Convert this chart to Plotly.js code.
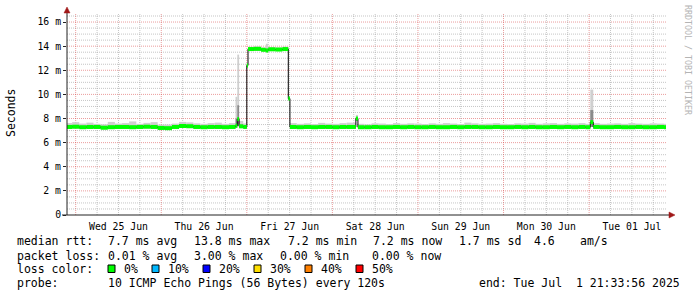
<!DOCTYPE html>
<html>
<head>
<meta charset="utf-8">
<script src="https://cdn.plot.ly/plotly-3.0.1.min.js"></script>
<style>
html,body{margin:0;padding:0;background:#fff;}
#chart{width:697px;height:297px;}
</style>
</head>
<body>
<div id="chart"></div>
<script>
// ---- data ----
const times = [
'2025-06-24 21:34','2025-06-24 23:00',
'2025-06-25 01:00','2025-06-25 03:00','2025-06-25 05:00','2025-06-25 07:00','2025-06-25 09:00','2025-06-25 11:00',
'2025-06-25 13:00','2025-06-25 15:00','2025-06-25 17:00','2025-06-25 19:00','2025-06-25 21:00','2025-06-25 23:00',
'2025-06-26 01:00','2025-06-26 03:00','2025-06-26 05:00','2025-06-26 07:00','2025-06-26 09:00','2025-06-26 11:00',
'2025-06-26 13:00','2025-06-26 15:00','2025-06-26 17:00','2025-06-26 19:00','2025-06-26 20:50','2025-06-26 21:20',
'2025-06-26 21:50','2025-06-26 23:00',
'2025-06-27 00:00','2025-06-27 00:20','2025-06-27 02:00','2025-06-27 04:00','2025-06-27 05:20','2025-06-27 06:00',
'2025-06-27 08:00','2025-06-27 10:00','2025-06-27 11:38','2025-06-27 12:05','2025-06-27 14:00','2025-06-27 16:00',
'2025-06-27 18:00','2025-06-27 20:00','2025-06-27 22:00',
'2025-06-28 00:00','2025-06-28 02:00','2025-06-28 04:00','2025-06-28 06:35','2025-06-28 07:10','2025-06-28 09:00',
'2025-06-28 11:00','2025-06-28 13:00','2025-06-28 15:00','2025-06-28 17:00','2025-06-28 19:00','2025-06-28 21:00',
'2025-06-28 23:00',
'2025-06-29 01:00','2025-06-29 03:00','2025-06-29 05:00','2025-06-29 07:00','2025-06-29 09:00','2025-06-29 11:00',
'2025-06-29 13:00','2025-06-29 15:00','2025-06-29 17:00','2025-06-29 19:00','2025-06-29 21:00','2025-06-29 23:00',
'2025-06-30 01:00','2025-06-30 03:00','2025-06-30 05:00','2025-06-30 07:00','2025-06-30 09:00','2025-06-30 11:00',
'2025-06-30 13:00','2025-06-30 15:00','2025-06-30 17:00','2025-06-30 19:00','2025-06-30 21:00','2025-06-30 23:00',
'2025-07-01 00:20','2025-07-01 01:10','2025-07-01 03:00','2025-07-01 05:00','2025-07-01 07:00','2025-07-01 09:00',
'2025-07-01 11:00','2025-07-01 13:00','2025-07-01 15:00','2025-07-01 17:00','2025-07-01 19:00','2025-07-01 21:00'
];
const endTime = '2025-07-01 21:33:56';
const startTime = '2025-06-24 21:33:56';

// median rtt (ms)
const median = [
7.30,7.32,
7.28,7.30,7.30,7.24,7.28,7.30,7.30,7.28,7.30,7.32,7.30,7.22,
7.20,7.30,7.38,7.36,7.30,7.28,7.30,7.30,7.28,7.30,7.40,7.95,7.35,7.30,
12.40,13.76,13.78,13.70,13.64,13.74,13.72,13.76,9.65,7.30,7.28,7.30,7.28,7.30,7.30,
7.28,7.30,7.30,8.00,7.28,7.28,7.30,7.28,7.28,7.30,7.28,7.30,7.28,
7.28,7.30,7.28,7.28,7.30,7.28,7.30,7.30,7.28,7.28,7.30,7.28,
7.28,7.30,7.28,7.30,7.28,7.28,7.30,7.28,7.30,7.28,7.30,7.28,
7.70,7.30,7.28,7.28,7.30,7.28,7.28,7.30,7.28,7.28,7.30,7.28
];
// lowest ping (ms)
const pingMin = [
7.18,7.20,
7.16,7.18,7.18,7.12,7.16,7.18,7.18,7.16,7.18,7.20,7.18,7.10,
7.08,7.18,7.26,7.24,7.18,7.16,7.18,7.18,7.16,7.18,7.25,7.40,7.22,7.18,
12.25,13.62,13.64,13.58,13.52,13.60,13.60,13.62,9.52,7.18,7.16,7.18,7.16,7.18,7.18,
7.16,7.18,7.18,7.80,7.16,7.16,7.18,7.16,7.16,7.18,7.16,7.18,7.16,
7.16,7.18,7.16,7.16,7.18,7.16,7.18,7.18,7.16,7.16,7.18,7.16,
7.16,7.18,7.16,7.18,7.16,7.16,7.18,7.16,7.18,7.16,7.18,7.16,
7.30,7.18,7.16,7.16,7.18,7.16,7.16,7.18,7.16,7.16,7.18,7.16
];
// highest ping (ms)
const pingMax = [
7.62,7.70,
7.58,7.66,7.56,7.52,7.72,7.58,7.62,7.76,7.56,7.64,7.70,7.50,
7.50,7.58,7.72,7.68,7.60,7.56,7.62,7.66,7.56,7.62,9.80,13.30,7.80,7.60,
12.55,13.95,13.98,13.90,14.20,13.92,13.90,13.96,9.80,7.62,7.56,7.60,7.54,7.64,7.58,
7.56,7.62,7.66,8.30,7.56,7.52,7.60,7.58,7.54,7.62,7.56,7.60,7.58,
7.54,7.60,7.56,7.62,7.58,7.54,7.66,7.60,7.56,7.58,7.62,7.56,
7.54,7.60,7.58,7.64,7.56,7.60,7.62,7.56,7.60,7.58,7.62,7.56,
10.40,7.62,7.56,7.58,7.60,7.56,7.62,7.58,7.56,7.60,7.58,7.56
];
// inner (denser) part of the smoke (ms)
const pingMid = [
7.40,7.42,
7.38,7.40,7.38,7.32,7.40,7.40,7.40,7.40,7.38,7.42,7.40,7.30,
7.30,7.40,7.48,7.46,7.40,7.38,7.40,7.40,7.38,7.40,8.00,9.10,7.50,7.40,
12.40,13.80,13.84,13.76,13.80,13.80,13.78,13.82,9.70,7.40,7.38,7.40,7.38,7.40,7.40,
7.38,7.40,7.40,8.10,7.38,7.36,7.40,7.38,7.36,7.40,7.38,7.40,7.38,
7.36,7.40,7.38,7.38,7.40,7.36,7.40,7.40,7.38,7.38,7.40,7.38,
7.36,7.40,7.38,7.40,7.38,7.38,7.40,7.38,7.40,7.38,7.40,7.38,
8.70,7.40,7.38,7.38,7.40,7.38,7.38,7.40,7.38,7.38,7.40,7.38
];

const dayTicks = ['2025-06-25 12:00','2025-06-26 12:00','2025-06-27 12:00','2025-06-28 12:00','2025-06-29 12:00','2025-06-30 12:00','2025-07-01 12:00'];
const dayLabels = ['Wed 25 Jun','Thu 26 Jun','Fri 27 Jun','Sat 28 Jun','Sun 29 Jun','Mon 30 Jun','Tue 01 Jul'];
const yTicks = [0,2,4,6,8,10,12,14,16];
const yLabels = ['0','2 m','4 m','6 m','8 m','10 m','12 m','14 m','16 m'];

const lossLabels = ['0%','10%','20%','30%','40%','50%'];
const lossColors = ['#00ff00','#00b8ff','#0000ff','#ffe000','#ff8000','#ff0000'];

const legendLine1 = ['median rtt:','7.7 ms avg','13.8 ms max','7.2 ms min','7.2 ms now','1.7 ms sd','4.6','am/s'];
const legendLine2 = ['packet loss:','0.01 % avg','3.00 % max','0.00 % min','0.00 % now'];
const legendLine4 = ['probe:','10 ICMP Echo Pings (56 Bytes) every 120s','end: Tue Jul  1 21:33:56 2025'];

// ---- layout helpers (pixel geometry) ----
const L = 67, R = 666, T = 13, B = 215;
const xp = px => (px - L) / (R - L);
const yp = py => (B - py) / (B - T);
const toMs = s => Date.parse(s.replace(' ', 'T') + (s.length === 16 ? ':00' : '') + 'Z');

const tMs = times.map(toMs);
const endMs = toMs(endTime);
const startMs = toMs(startTime);
const segEnd = tMs.slice(1).concat([endMs]);
const widths = tMs.map((t, i) => segEnd[i] - t);
const centers = tMs.map((t, i) => t + widths[i] / 2);

// loss-coloured median band: one horizontal segment per sample
const bandX = [], bandY = [];
tMs.forEach((t, i) => { bandX.push(t, segEnd[i], null); bandY.push(median[i], median[i], null); });

const traces = [
  { type: 'bar', x: centers, width: widths, base: pingMin,
    y: pingMax.map((v, i) => v - pingMin[i]),
    marker: { color: '#cfcfcf', line: { width: 0 } }, hoverinfo: 'skip', showlegend: false },
  { type: 'bar', x: centers, width: widths, base: pingMin,
    y: pingMid.map((v, i) => v - pingMin[i]),
    marker: { color: '#8a8a8a', line: { width: 0 } }, hoverinfo: 'skip', showlegend: false },
  { type: 'scatter', mode: 'lines', x: tMs.concat([endMs]), y: median.concat([median[median.length - 1]]),
    line: { shape: 'hv', color: '#000000', width: 1 }, hoverinfo: 'skip', showlegend: false },
  { type: 'scatter', mode: 'lines', x: bandX, y: bandY, connectgaps: false,
    line: { color: lossColors[0], width: 4 }, hoverinfo: 'skip', showlegend: false }
];

const shapes = [];
const gray = 'rgba(150,150,150,0.55)';
const red = 'rgba(215,60,60,0.5)';
// horizontal grid
for (let k = 1; k <= 33; k++) {
  const v = k * 0.5;
  const major = (k % 4 === 0);
  shapes.push({ type: 'line', layer: 'below', xref: 'paper', yref: 'y', x0: 0, x1: 1, y0: v, y1: v,
    line: { color: major ? red : gray, width: 1, dash: '1px,1px' } });
}
// vertical grid
const gridStart = toMs('2025-06-25 00:00');
for (let t = gridStart; t < endMs; t += 6 * 3600 * 1000) {
  const major = ((t - gridStart) % (24 * 3600 * 1000)) === 0;
  shapes.push({ type: 'line', layer: 'below', xref: 'x', yref: 'paper', x0: t, x1: t, y0: 0, y1: 1,
    line: { color: major ? red : gray, width: 1, dash: '1px,1px' } });
}
// axis lines and arrows
shapes.push({ type: 'line', xref: 'paper', yref: 'paper', x0: xp(67), x1: xp(67), y0: yp(215), y1: yp(12),
  line: { color: '#222', width: 1 } });
shapes.push({ type: 'line', xref: 'paper', yref: 'paper', x0: xp(62), x1: xp(670), y0: yp(215), y1: yp(215),
  line: { color: '#222', width: 1 } });
shapes.push({ type: 'path', xref: 'paper', yref: 'paper',
  path: `M ${xp(64)} ${yp(13)} L ${xp(70)} ${yp(13)} L ${xp(67)} ${yp(7)} Z`,
  fillcolor: '#a01818', line: { color: '#a01818', width: 0.5 } });
shapes.push({ type: 'path', xref: 'paper', yref: 'paper',
  path: `M ${xp(669)} ${yp(212)} L ${xp(669)} ${yp(218)} L ${xp(675)} ${yp(215)} Z`,
  fillcolor: '#a01818', line: { color: '#a01818', width: 0.5 } });

// loss color boxes
const boxX = [108, 152, 203, 254, 305, 356];
const labX = [123, 167, 218, 269, 320, 371];
boxX.forEach((bx, i) => {
  shapes.push({ type: 'rect', xref: 'paper', yref: 'paper', x0: xp(bx), x1: xp(bx + 7), y0: yp(265), y1: yp(272.5),
    fillcolor: lossColors[i], line: { color: '#000', width: 1 } });
});

const mono = 'DejaVu Sans Mono, monospace';
const nb = s => s.replace(/ /g, '\u00a0');
const ann = [];
const addText = (txt, px, py, size) => ann.push({ text: nb(txt), xref: 'paper', yref: 'paper', x: xp(px), y: yp(py),
  xanchor: 'left', yanchor: 'middle', showarrow: false, borderpad: 0, font: { family: mono, size: size || 11.5, color: '#000' } });

const l1x = [16, 107, 193, 287, 372, 458, 533, 579];
legendLine1.forEach((s, i) => addText(s, l1x[i], 241.5));
const l2x = [16, 107, 193, 279, 371];
legendLine2.forEach((s, i) => addText(s, l2x[i], 255.5));
addText('loss color:', 16, 269.3);
lossLabels.forEach((s, i) => addText(s, labX[i], 269.3));
const l4x = [16, 107, 478];
legendLine4.forEach((s, i) => addText(s, l4x[i], 283.3));

ann.push({ text: 'Seconds', textangle: -90, xref: 'paper', yref: 'paper', x: xp(11), y: yp(113),
  xanchor: 'center', yanchor: 'middle', showarrow: false, font: { family: mono, size: 11.5, color: '#000' } });
ann.push({ text: nb('RRDTOOL / TOBI OETIKER'), textangle: 90, xref: 'paper', yref: 'paper', x: xp(688), y: yp(60),
  xanchor: 'center', yanchor: 'middle', showarrow: false, font: { family: mono, size: 8.3, color: '#b4b4b4' } });

const layout = {
  width: 697, height: 297,
  margin: { l: L, r: 697 - R, t: T, b: 297 - B, pad: 0 },
  paper_bgcolor: '#ffffff', plot_bgcolor: '#ffffff',
  barmode: 'overlay', showlegend: false,
  font: { family: mono, color: '#000' },
  xaxis: { type: 'date', range: [startMs, endMs], showgrid: false, zeroline: false, showline: false,
    tickmode: 'array', tickvals: dayTicks, ticktext: dayLabels, ticks: '', ticklabelstandoff: 4,
    tickfont: { family: mono, size: 9.8, color: '#000' }, fixedrange: true },
  yaxis: { range: [0, 16.75], showgrid: false, zeroline: false, showline: false,
    tickmode: 'array', tickvals: yTicks, ticktext: yLabels, ticks: 'outside', ticklen: 3, tickcolor: '#222',
    tickfont: { family: mono, size: 9.8, color: '#000' }, fixedrange: true },
  shapes: shapes,
  annotations: ann
};

Plotly.newPlot('chart', traces, layout, { displayModeBar: false, staticPlot: true });
</script>
</body>
</html>
